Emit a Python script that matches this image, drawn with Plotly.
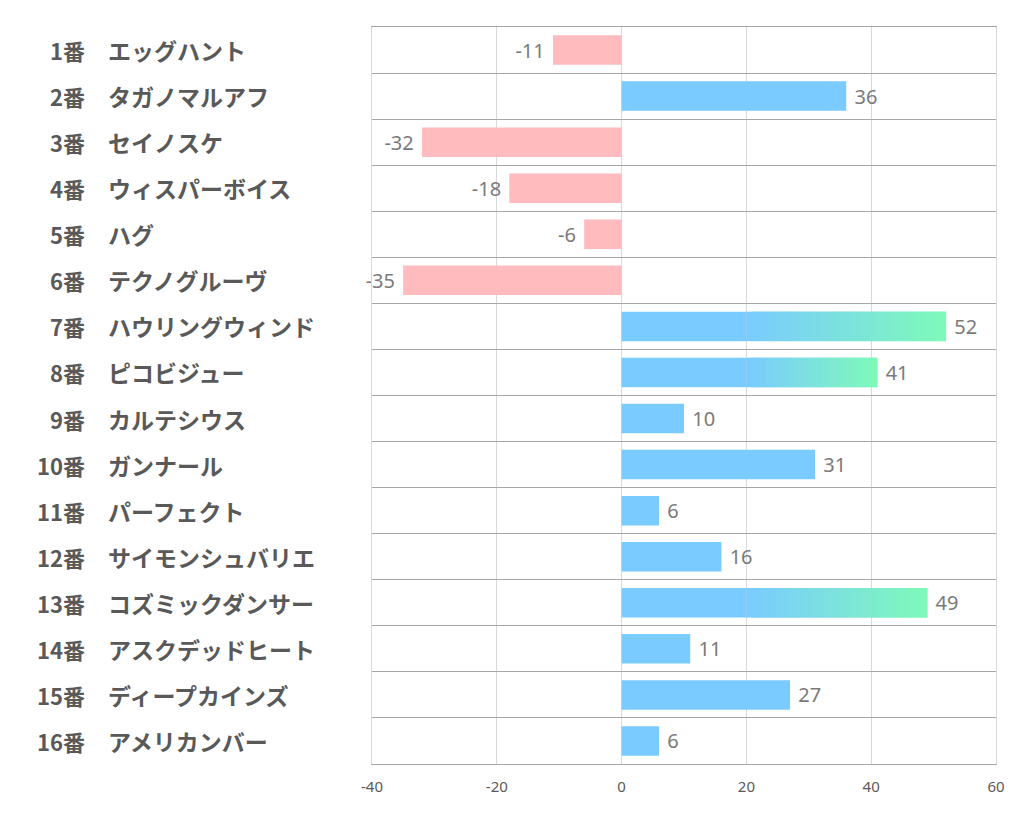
import plotly.graph_objects as go

# ---- data ----
numbers = ["1番", "2番", "3番", "4番", "5番", "6番", "7番", "8番",
           "9番", "10番", "11番", "12番", "13番", "14番", "15番", "16番"]
names = ["エッグハント", "タガノマルアフ", "セイノスケ", "ウィスパーボイス",
         "ハグ", "テクノグルーヴ", "ハウリングウィンド", "ピコビジュー",
         "カルテシウス", "ガンナール", "パーフェクト", "サイモンシュバリエ",
         "コズミックダンサー", "アスクデッドヒート", "ディープカインズ", "アメリカンバー"]
values = [-11, 36, -32, -18, -6, -35, 52, 41, 10, 31, 6, 16, 49, 11, 27, 6]
highlight = [False, False, False, False, False, False, True, True,
             False, False, False, False, True, False, False, False]
x_ticks = [-40, -20, 0, 20, 40, 60]
x_tick_text = ["-40", "-20", "0", "20", "40", "60"]

# ---- style ----
BLUE = (122, 203, 255)
GREEN = (126, 250, 185)
PINK = "rgb(255,187,190)"
GRAD_START = 20
N_SEG = 40
BAR_W = 0.64
LABEL_FONT = "Noto Sans CJK JP"
VAL_FONT = dict(size=20, color="#7A7A7A", family="Noto Sans")

W, H = 1022, 834
OFF = 7  # page offset
L = 371 - OFF
T = 26 - OFF
R = W - (995 - OFF)
B = H - (763 - OFF)
PW = W - L - R


def rgb(c):
    return "rgb(%d,%d,%d)" % c


def mix(a, b, t):
    return tuple(round(a[i] + (b[i] - a[i]) * t) for i in range(3))


def label(v):
    return (" " + str(v)) if v >= 0 else (str(v) + " ")


fig = go.Figure()

# main bars
main_x, main_col, main_txt = [], [], []
for v, h in zip(values, highlight):
    if h:
        main_x.append(GRAD_START)
        main_txt.append("")
    else:
        main_x.append(v)
        main_txt.append(label(v))
    main_col.append(PINK if v < 0 else rgb(BLUE))

fig.add_trace(go.Bar(
    y=numbers, x=main_x, orientation="h", width=BAR_W,
    marker=dict(color=main_col, line=dict(width=0)),
    text=main_txt, textposition="outside", outsidetextfont=VAL_FONT,
    cliponaxis=False, hoverinfo="skip", showlegend=False,
))

# gradient segments for highlighted bars
gy, gbase, gx, gcol, gtxt = [], [], [], [], []
for n, v, h in zip(numbers, values, highlight):
    if not h:
        continue
    step = (v - GRAD_START) / N_SEG
    for k in range(N_SEG):
        b0 = GRAD_START + k * step
        gy.append(n)
        gbase.append(b0)
        gx.append(min(2 * step, v - b0))
        gcol.append(rgb(mix(BLUE, GREEN, (k + 0.5) / N_SEG)))
        gtxt.append(label(v) if k == N_SEG - 1 else "")

fig.add_trace(go.Bar(
    y=gy, x=gx, base=gbase, orientation="h", width=BAR_W,
    marker=dict(color=gcol, line=dict(width=0)),
    text=gtxt, textposition="outside", outsidetextfont=VAL_FONT,
    cliponaxis=False, hoverinfo="skip", showlegend=False,
))

# left labels
ann = []
for n, nm in zip(numbers, names):
    ann.append(dict(x=(86 - OFF - L) / PW, y=n, xref="paper", yref="y",
                    text="<b>" + n + "</b>",
                    xanchor="right", yanchor="middle", showarrow=False,
                    font=dict(size=22, color="#595959", family=LABEL_FONT)))
    ann.append(dict(x=(105 - OFF - L) / PW, y=n, xref="paper", yref="y",
                    text="<b>" + nm + "</b>",
                    xanchor="left", yanchor="middle", showarrow=False,
                    font=dict(size=23, color="#595959", family=LABEL_FONT)))

fig.update_layout(
    width=W, height=H,
    margin=dict(l=L, r=R, t=T, b=B),
    paper_bgcolor="white", plot_bgcolor="white",
    barmode="overlay",
    annotations=ann,
    xaxis=dict(range=[x_ticks[0], x_ticks[-1]], tickvals=x_ticks, ticktext=x_tick_text,
               showgrid=True, gridcolor="#D9D9D9", gridwidth=1,
               zeroline=False, showline=True, linecolor="#A6A6A6", mirror=True,
               ticks="", ticklabelstandoff=9,
               tickfont=dict(size=15, color="#595959", family="Noto Sans")),
    yaxis=dict(type="category", categoryorder="array", categoryarray=numbers,
               autorange="reversed", tickson="boundaries",
               showgrid=True, gridcolor="#A6A6A6", gridwidth=1,
               showticklabels=False, ticks="", zeroline=False,
               showline=True, linecolor="#D9D9D9", mirror=True),
)

fig.write_html("out.html")
